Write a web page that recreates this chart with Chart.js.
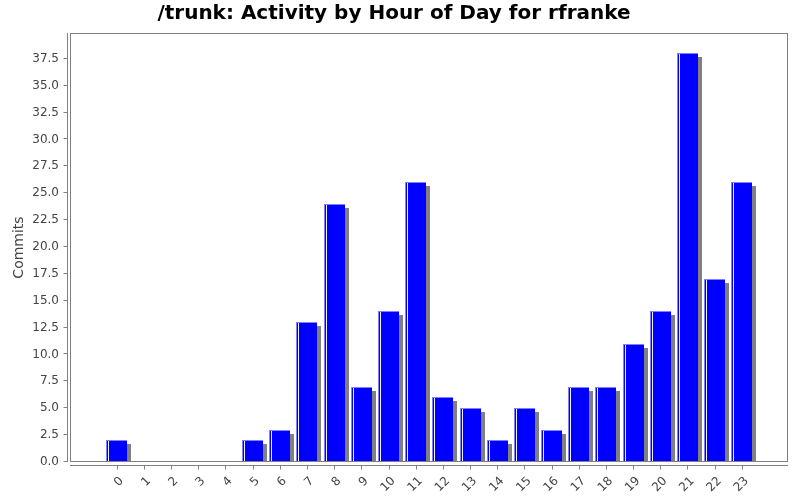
<!DOCTYPE html>
<html>
<head>
<meta charset="utf-8">
<script src="https://cdn.jsdelivr.net/npm/chart.js@4"></script>
<style>
  html, body { margin: 0; padding: 0; background: #fff; }
  #wrap { width: 800px; height: 500px; }
</style>
</head>
<body>
<div id="wrap"><canvas id="chart" width="800" height="500"></canvas></div>
<script>
const hours = ['0','1','2','3','4','5','6','7','8','9','10','11','12','13','14','15','16','17','18','19','20','21','22','23']
const commits = [2, 0, 0, 0, 0, 2, 3, 13, 24, 7, 14, 26, 6, 5, 2, 5, 3, 7, 7, 11, 14, 38, 17, 26]
const yTicks = [0, 2.5, 5, 7.5, 10, 12.5, 15, 17.5, 20, 22.5, 25, 27.5, 30, 32.5, 35, 37.5]

const FONT = 'DejaVu Sans'
const GRAY = '#808080'

// JFreeChart-ish frame, offset axis lines, tick marks, bar highlights
const jfree = {
  id: 'jfree',
  beforeDatasetsDraw(chart) {
    const ctx = chart.ctx
    // snap bars to whole pixels so the edges stay crisp
    chart.getDatasetMeta(0).data.forEach(bar => {
      bar.x = Math.round(bar.x - 0.5) + 0.5
      bar.y = Math.round(bar.y)
    })
    ctx.save()
    ctx.shadowColor = GRAY
    ctx.shadowOffsetX = 4
    ctx.shadowOffsetY = 4
    ctx.shadowBlur = 0
  },
  afterDatasetsDraw(chart) {
    const ctx = chart.ctx
    ctx.restore()
    const a = chart.chartArea
    // bar highlights
    chart.getDatasetMeta(0).data.forEach(bar => {
      const h = bar.base - bar.y
      if (h < 1) return
      const l = Math.round(bar.x - bar.width / 2)
      const t = Math.round(bar.y)
      ctx.fillStyle = '#7f7fff'
      ctx.fillRect(l, t, 1, h)
      ctx.fillRect(l, t, Math.round(bar.width), 1)
      ctx.fillStyle = '#f0f0ff'
      ctx.fillRect(l + 2, t + 1, 1, h - 1)
    })
    ctx.save()
    ctx.strokeStyle = GRAY
    ctx.lineWidth = 1
    // plot frame
    ctx.strokeRect(Math.round(a.left) + 0.5, Math.round(a.top) + 0.5,
      Math.round(a.right - a.left) - 1, Math.round(a.bottom - a.top) - 1)
    // y axis line + ticks
    const yx = Math.round(a.left) - 3 + 0.5
    ctx.beginPath()
    ctx.moveTo(yx, a.top)
    ctx.lineTo(yx, a.bottom)
    chart.scales.y.ticks.forEach(t => {
      const py = Math.round(chart.scales.y.getPixelForValue(t.value)) - 0.5
      ctx.moveTo(yx - 4, py)
      ctx.lineTo(yx, py)
    })
    // x axis line + ticks
    const xy = Math.round(a.bottom) + 3 + 0.5
    ctx.moveTo(a.left, xy)
    ctx.lineTo(a.right, xy)
    chart.scales.x.ticks.forEach(t => {
      const px = Math.round(chart.scales.x.getPixelForValue(t.value)) + 0.5
      ctx.moveTo(px, xy)
      ctx.lineTo(px, xy + 4)
    })
    ctx.stroke()
    ctx.restore()
  }
}

new Chart(document.getElementById('chart'), {
  type: 'bar',
  data: {
    datasets: [{
      data: commits.map((c, i) => ({ x: i, y: c })),
      backgroundColor: '#0000ff',
      borderWidth: 0,
      inflateAmount: 0,
      barThickness: 21
    }]
  },
  options: {
    responsive: false,
    animation: false,
    layout: { padding: { left: 0, right: 12, top: 0, bottom: 0 } },
    plugins: {
      legend: { display: false },
      tooltip: { enabled: false },
      title: {
        display: true,
        text: '/trunk: Activity by Hour of Day for rfranke',
        color: '#000',
        font: { family: FONT, size: 20, weight: 'bold' },
        padding: { top: 2, bottom: 7 }
      }
    },
    scales: {
      x: {
        type: 'linear',
        offset: false,
        min: -1.72,
        max: 24.7,
        afterBuildTicks: s => { s.ticks = hours.map((h, i) => ({ value: i })) },
        afterFit: s => { s.height = 38 },
        border: { display: false },
        grid: { drawOnChartArea: false, tickLength: 8, color: 'rgba(0,0,0,0)' },
        ticks: {
          autoSkip: false,
          minRotation: 45,
          maxRotation: 45,
          padding: 4,
          labelOffset: 5,
          color: '#444',
          font: { family: FONT, size: 12 },
          callback: v => hours[v]
        }
      },
      y: {
        min: 0,
        max: 39.9,
        afterBuildTicks: s => { s.ticks = yTicks.map(v => ({ value: v })) },
        afterFit: s => { s.width = 70 },
        border: { display: false },
        grid: { drawOnChartArea: false, tickLength: 7, color: 'rgba(0,0,0,0)' },
        ticks: {
          padding: 4,
          color: '#444',
          font: { family: FONT, size: 12 },
          callback: v => v.toFixed(1)
        },
        title: {
          display: true,
          text: 'Commits',
          color: '#444',
          font: { family: FONT, size: 14 },
          padding: { top: 11, bottom: 0 }
        }
      }
    }
  },
  plugins: [jfree]
})
</script>
</body>
</html>
